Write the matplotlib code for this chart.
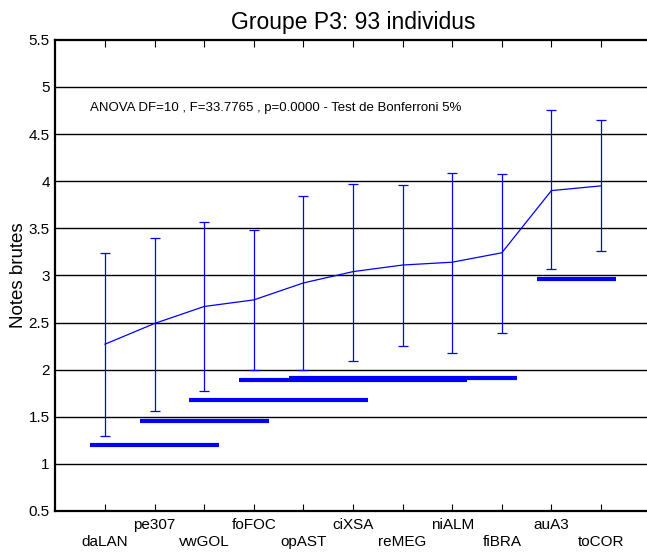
import numpy as np
import matplotlib.pyplot as plt

plt.rcParams['font.family'] = ['Liberation Sans', 'DejaVu Sans']

names = ["daLAN", "pe307", "vwGOL", "foFOC", "opAST", "ciXSA",
         "reMEG", "niALM", "fiBRA", "auA3", "toCOR"]
means = [2.27, 2.49, 2.67, 2.74, 2.92, 3.04, 3.11, 3.14, 3.24, 3.90, 3.95]
upper = [3.24, 3.40, 3.57, 3.48, 3.84, 3.97, 3.96, 4.09, 4.08, 4.76, 4.65]
lower = [1.30, 1.56, 1.77, 2.00, 2.00, 2.09, 2.25, 2.18, 2.39, 3.07, 3.26]

# Bonferroni groups: first / last member (1-based) and drawing level
group_first = [1, 2, 3, 4, 5, 10]
group_last = [3, 4, 6, 8, 9, 11]
group_level = [1.20, 1.45, 1.68, 1.89, 1.91, 2.96]

title = "Groupe P3: 93 individus"
note = "ANOVA DF=10 , F=33.7765 , p=0.0000 - Test de Bonferroni 5%"

x = np.arange(1, len(names) + 1)
means = np.array(means)
yerr = [means - np.array(lower), np.array(upper) - means]

fig = plt.figure(figsize=(6.47, 5.53), dpi=100)
ax = fig.add_axes([0.0856, 0.076, 0.92, 0.852])

for yl in np.arange(1.0, 5.01, 0.5):
    ax.axhline(yl, color='black', lw=1.0, zorder=1)

ax.errorbar(x, means, yerr=yerr, color='blue', lw=0.9, elinewidth=0.9,
            capsize=3.6, capthick=0.9, zorder=3)

for a, b, lev in zip(group_first, group_last, group_level):
    ax.plot([a - 0.3, b + 0.3], [lev, lev], color='blue', lw=3,
            solid_capstyle='butt', zorder=4)

ax.text(0.7, 4.78, note, fontsize=9.5, va='center', ha='left')

ax.set_xlim(0, 12)
ax.set_ylim(0.5, 5.5)
ax.set_xticks(x)
ax.set_xticklabels([n if i % 2 else "\n" + n for i, n in enumerate(names)],
                   fontsize=11, linespacing=1.25)
ax.set_yticks(np.arange(0.5, 5.51, 0.5))
ax.set_yticklabels(["0.5", "1", "1.5", "2", "2.5", "3", "3.5", "4", "4.5",
                    "5", "5.5"], fontsize=11)
ax.tick_params(axis='x', direction='in', length=5, width=0.8, top=True,
               pad=5)
ax.tick_params(axis='y', direction='in', length=0, pad=4)
for s in ax.spines.values():
    s.set_linewidth(1.6)

ax.set_ylabel("Notes brutes", fontsize=13.5, labelpad=1)
ax.set_title(title, fontsize=16.5, pad=8)

fig.savefig("out.png", dpi=100)
